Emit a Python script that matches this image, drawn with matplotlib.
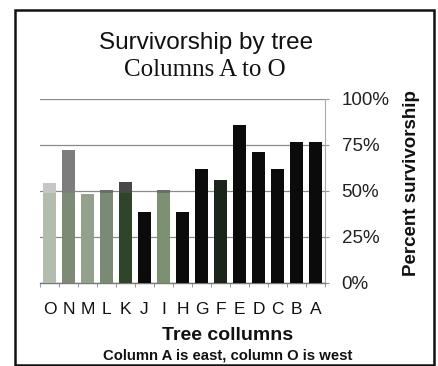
import matplotlib
matplotlib.use("Agg")
import matplotlib.pyplot as plt
import numpy as np
from matplotlib.patches import Rectangle

columns = ["O", "N", "M", "L", "K", "J", "I", "H", "G", "F", "E", "D", "C", "B", "A"]
survival = [54.0, 72.0, 48.0, 50.5, 55.0, 38.5, 50.5, 38.5, 62.0, 56.0, 85.5, 71.0, 62.0, 76.5, 76.5]
y_ticks = [0, 25, 50, 75, 100]
y_tick_labels = ["0%", "25%", "50%", "75%", "100%"]

# colours: lower (greenish) tone and upper tone per bar (scan shading)
lower_colors = ["#b3bdae", "#7c8a76", "#93a08b", "#7b8a74", "#2e4529", "#0b0b0b", "#7c9171",
                "#0b0b0b", "#0b0b0b", "#1a261a", "#0b0b0b", "#0b0b0b", "#0b0b0b", "#0b0b0b", "#0b0b0b"]
upper_colors = ["#c6c6c6", "#7d7d7d", "#93a08b", "#6c6c6c", "#474747", "#0b0b0b", "#6c6c6c",
                "#0b0b0b", "#0b0b0b", "#1a261a", "#0b0b0b", "#0b0b0b", "#0b0b0b", "#0b0b0b", "#0b0b0b"]
band_level = 48.5

fig = plt.figure(figsize=(4.39, 3.66), dpi=100)
ax = fig.add_axes([0.091, 0.2276, 0.649, 0.5026])

x = np.arange(len(columns))
vals = np.array(survival)
ax.bar(x, vals, width=0.72, color=upper_colors, zorder=3)
ax.bar(x, np.minimum(vals, band_level), width=0.72, color=lower_colors, zorder=3)

ax.set_xlim(-0.5, len(columns) - 0.5)
ax.set_ylim(0, 100)
ax.set_yticks(y_ticks)
ax.set_yticklabels(y_tick_labels, fontfamily="Liberation Sans", fontsize=13.5, color="#222222")
ax.yaxis.tick_right()
ax.yaxis.set_label_position("right")
ax.tick_params(axis="y", length=3, pad=9, color="#999999")
ax.grid(axis="y", color="#8a8a8a", linewidth=0.9, zorder=0)

ax.set_xticks(x)
ax.set_xticklabels(columns, fontfamily="Liberation Sans", fontsize=12.5, color="#111111")
ax.tick_params(axis="x", length=0, pad=14)
ax.set_xticks(np.arange(-0.5, len(columns)), minor=True)
ax.tick_params(axis="x", which="minor", length=3, color="#888888")

for s in ["top", "left"]:
    ax.spines[s].set_visible(False)
ax.spines["right"].set_color("#aaaaaa")
ax.spines["right"].set_linewidth(0.8)
ax.spines["bottom"].set_color("#777777")
ax.spines["bottom"].set_linewidth(1.0)

fig.text(412 / 439, 1 - 183 / 366, "Percent survivorship", ha="center", va="center",
         rotation=90, fontfamily="Liberation Sans", fontsize=13.5, fontweight="bold",
         color="#111111")

fig.text(206.5 / 439, 1 - 43 / 366, "Survivorship by tree", ha="center", va="center",
         fontfamily="Liberation Sans", fontsize=17.5, color="#111111")
fig.text(205 / 439, 1 - 70 / 366, "Columns A to O", ha="center", va="center",
         fontfamily="Liberation Serif", fontsize=18, color="#111111")
fig.text(228 / 439, 1 - 335 / 366, "Tree collumns", ha="center", va="center",
         fontfamily="Liberation Sans", fontsize=14, fontweight="bold", color="#111111")
fig.text(227.5 / 439, 1 - 355 / 366, "Column A is east, column O is west", ha="center",
         va="center", fontfamily="Liberation Sans", fontsize=10.7, fontweight="bold",
         color="#111111")

fig.patches.append(Rectangle((15.5 / 439, 1.5 / 366), (434.5 - 15.5) / 439, 355 / 366,
                             transform=fig.transFigure, fill=False, edgecolor="#111111",
                             linewidth=1.8))

fig.savefig("out.png", dpi=100)
